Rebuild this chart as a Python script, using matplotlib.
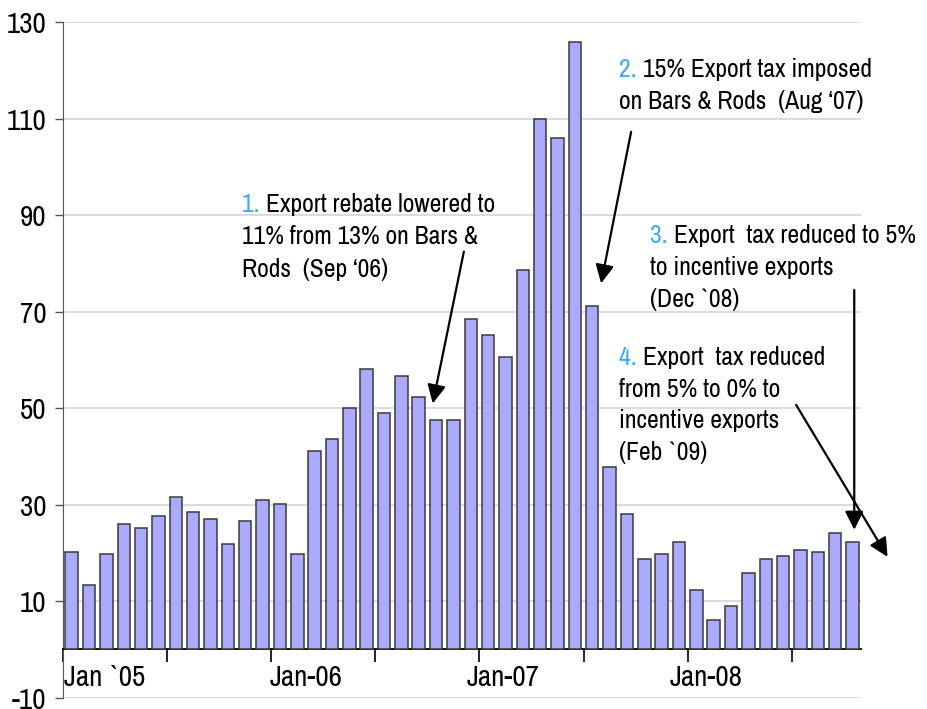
import matplotlib
matplotlib.use('Agg')
import matplotlib.pyplot as plt

plt.rcParams['font.family'] = ['Archivo Narrow', 'Liberation Sans', 'DejaVu Sans']
plt.rcParams['axes.unicode_minus'] = False

BT = '\u02cb'  # grave-like mark, the narrow font lacks a visible backtick

# monthly values, Jan 2005 .. Oct 2008
months = [f'{y}-{m:02d}' for y in range(2005, 2009) for m in range(1, 13)][:46]
values = [20.2, 13.4, 19.8, 26.1, 25.2, 27.6, 31.5, 28.5, 27.0, 21.8, 26.6, 31.0,
          30.1, 19.8, 41.2, 43.7, 50.0, 58.2, 49.1, 56.7, 52.4, 47.6, 47.6, 68.5,
          65.2, 60.7, 78.7, 109.9, 106.0, 125.9, 71.1, 37.8, 28.0, 18.8, 19.8, 22.2,
          12.4, 6.2, 9.0, 15.9, 18.8, 19.3, 20.7, 20.2, 24.1, 22.2]
year_labels = ['Jan ' + BT + '05', 'Jan-06', 'Jan-07', 'Jan-08']
label_x = [-0.46, 11.41, 22.74, 34.44]
yticks = list(range(-10, 131, 20))

fig = plt.figure(figsize=(9.27, 7.09), dpi=100)
ax = fig.add_axes([0.068, 0.016, 0.861, 0.9525])

x = list(range(len(values)))
ax.bar(x, values, width=0.72, color='#AAAAFF', edgecolor='#3a3a3a', linewidth=1.1, zorder=3)

ax.set_xlim(-0.5, len(values) - 0.5)
ax.set_ylim(-10, 130)
ax.set_yticks(yticks)
ax.yaxis.grid(True, color='#D6D6D6', linewidth=1.2, zorder=0)
ax.tick_params(axis='y', labelsize=21, length=6, width=1, color='#555555', pad=6)

ax.spines['top'].set_visible(False)
ax.spines['right'].set_visible(False)
ax.spines['left'].set_color('#555555')
ax.spines['bottom'].set_position(('data', 0))
ax.spines['bottom'].set_linewidth(1.3)
ax.set_xticks([i - 0.5 for i in range(0, len(values), 6)])
ax.set_xticklabels([])
ax.tick_params(axis='x', length=9, width=1.2, direction='out')

for lab, lx in zip(year_labels, label_x):
    ax.text(lx, -7.6, lab, fontsize=21, ha='left', va='baseline')

blue = '#3FA9F5'
fs = 18.5


def note(num, lines, x0, y0, step):
    t = ax.text(x0, y0, num + ' ', color=blue, fontsize=fs, va='baseline', clip_on=False)
    ax.annotate(lines[0], xy=(1, 0), xycoords=t, va='bottom', ha='left',
                fontsize=fs, annotation_clip=False)
    for k, line in enumerate(lines[1:], start=1):
        ax.text(x0, y0 - k * step, line, fontsize=fs, va='baseline', clip_on=False)


def arrow(x0, y0, x1, y1):
    ax.annotate('', xy=(x1, y1), xytext=(x0, y0), annotation_clip=False,
                arrowprops=dict(arrowstyle='-|>', color='black', lw=1.6,
                                mutation_scale=28, shrinkA=0, shrinkB=0))


note('1.', ['Export rebate lowered to', '11% from 13% on Bars &', 'Rods  (Sep \u201806)'],
     9.83, 90.7, 6.7)
note('2.', ['15% Export tax imposed', 'on Bars & Rods  (Aug \u201807)'],
     31.57, 118.7, 6.6)
note('3.', ['Export  tax reduced to 5%', 'to incentive exports', '(Dec ' + BT + '08)'],
     33.35, 84.3, 6.65)
note('4.', ['Export  tax reduced', 'from 5% to 0% to', 'incentive exports', '(Feb ' + BT + '09)'],
     31.57, 59.0, 6.57)

arrow(22.60, 82.45, 20.81, 51.0)
arrow(32.24, 107.3, 30.51, 75.9)
arrow(45.1, 74.5, 45.1, 24.8)
arrow(41.75, 50.7, 47.02, 19.2)

fig.savefig('out.png', dpi=100)
